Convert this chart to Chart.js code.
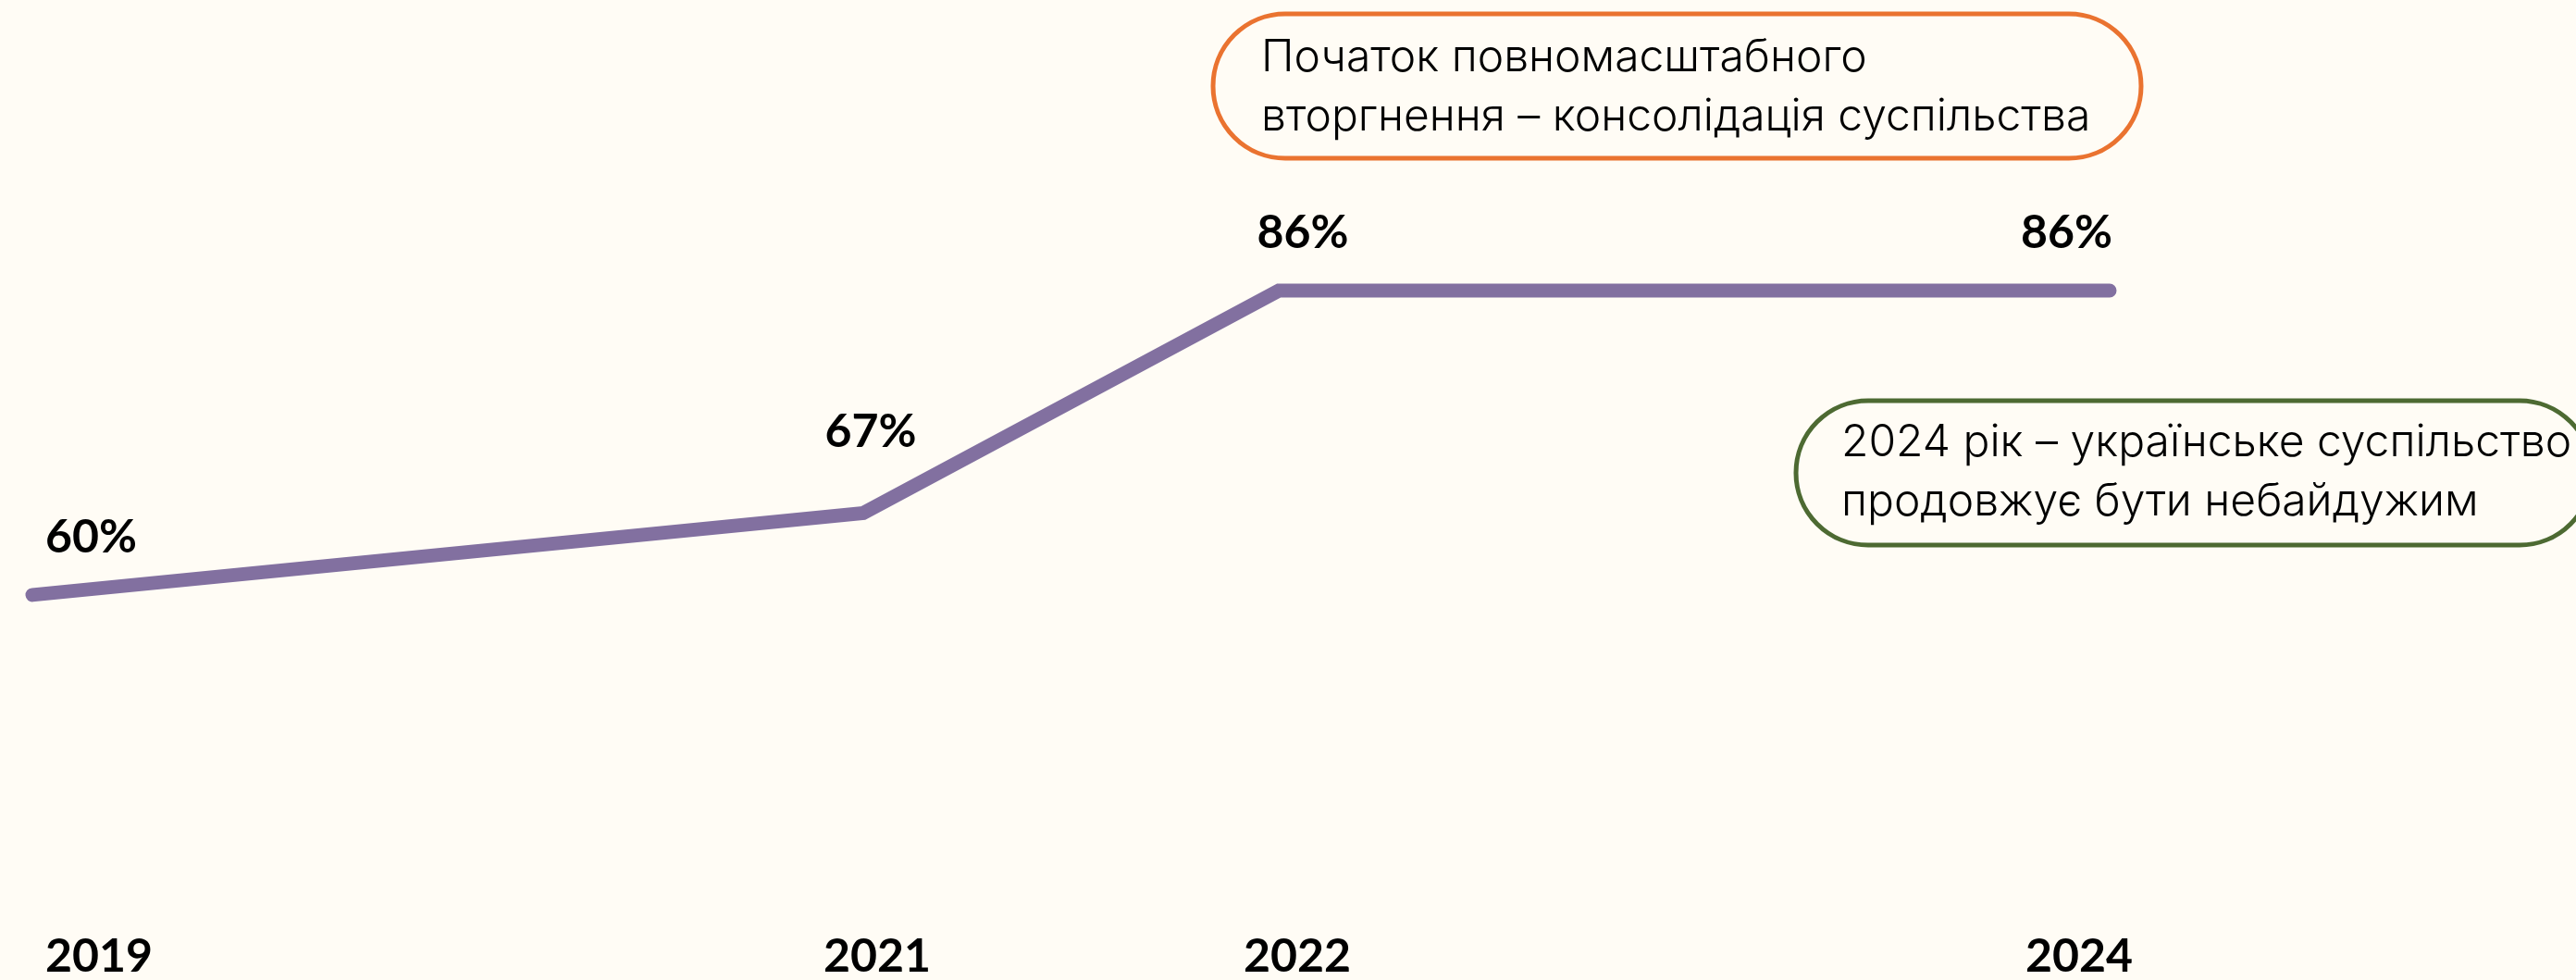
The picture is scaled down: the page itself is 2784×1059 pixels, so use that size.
<!DOCTYPE html>
<html lang="uk">
<head>
<meta charset="utf-8">
<title>Небайдужість суспільства</title>
<script src="https://cdn.jsdelivr.net/npm/chart.js@4.4.1/dist/chart.umd.min.js"></script>
<style>
  html, body { margin: 0; padding: 0; background: #FFFCF5; }
  #wrap { width: 2784px; height: 1059px; }
</style>
</head>
<body>
<div id="wrap"><canvas id="chart" width="2784" height="1059"></canvas></div>
<script>
/* ── Data ─────────────────────────────────────────────── */
const years = [2019, 2021, 2022, 2024];
const shares = [60, 67, 86, 86];
const tickYears = [2019, 2021, 2022, 2024];

const notes = [
  { lines: ['Початок повномасштабного', 'вторгнення – консолідація суспільства'], color: '#EA7330' },
  { lines: ['2024 рік – українське суспільство', 'продовжує бути небайдужим'], color: '#4D6A32' }
];

/* ── Styles ───────────────────────────────────────────── */
const LINE = '#8270A0';
const BOLD = '700 50px Lato, "Open Sans", sans-serif';
const LIGHT = '300 48px Inter, "Noto Sans", sans-serif';

// value label placement relative to its point
const labelAlign = ['left', 'center', 'center', 'right'];
const labelDx = [14, 8, 26, 3];
const labelLift = [46, 71, 46, 46];

// year label placement relative to its tick
const tickAlign = ['left', 'center', 'center', 'right'];
const tickDx = [14, 15, 20, 25];

/* ── Value labels and year labels ────────────────────── */
const textLabels = {
  id: 'textLabels',
  afterDatasetsDraw(chart) {
    const { ctx, scales } = chart;
    const meta = chart.getDatasetMeta(0);
    ctx.save();
    ctx.font = BOLD;
    ctx.fillStyle = '#000';
    ctx.textBaseline = 'alphabetic';
    meta.data.forEach((pt, i) => {
      ctx.textAlign = labelAlign[i];
      ctx.fillText(shares[i] + '%', pt.x + labelDx[i], pt.y - labelLift[i]);
    });
    // years along the bottom
    ctx.textBaseline = 'top';
    tickYears.forEach((yr, i) => {
      ctx.textAlign = tickAlign[i];
      ctx.fillText(String(yr), scales.x.getPixelForValue(yr) + tickDx[i], scales.x.bottom - 50);
    });
    ctx.restore();
  }
};

/* ── Rounded callout boxes ───────────────────────────── */
function pill(ctx, x, y, w, h, color) {
  ctx.beginPath();
  ctx.roundRect(x, y, w, h, h / 2);
  ctx.lineWidth = 5;
  ctx.strokeStyle = color;
  ctx.stroke();
}

const callouts = {
  id: 'callouts',
  afterDraw(chart) {
    const { ctx } = chart;
    const boxes = [
      { x: 1311, y: 15, w: 1003, h: 156, tx: 1363, ty: 77 },
      { x: 1941, y: 433, w: 860, h: 156, tx: 1990, ty: 493 }
    ];
    ctx.save();
    boxes.forEach((b, i) => {
      pill(ctx, b.x, b.y, b.w, b.h, notes[i].color);
      ctx.font = LIGHT;
      ctx.fillStyle = '#000';
      ctx.textAlign = 'left';
      ctx.textBaseline = 'alphabetic';
      notes[i].lines.forEach((t, k) => ctx.fillText(t, b.tx, b.ty + k * 64));
    });
    ctx.restore();
  }
};

/* ── Chart ────────────────────────────────────────────── */
new Chart(document.getElementById('chart'), {
  type: 'line',
  data: {
    datasets: [{
      data: years.map((y, i) => ({ x: y, y: shares[i] })),
      borderColor: LINE,
      borderWidth: 15,
      borderCapStyle: 'round',
      borderJoinStyle: 'miter',
      pointRadius: 0,
      tension: 0,
      clip: false
    }]
  },
  options: {
    responsive: false,
    animation: false,
    layout: { padding: { left: 35, right: 504, top: 137, bottom: 0 } },
    plugins: { legend: { display: false }, tooltip: { enabled: false } },
    scales: {
      x: {
        type: 'linear',
        min: 2019,
        max: 2024,
        afterBuildTicks: s => { s.ticks = tickYears.map(v => ({ value: v })); },
        afterFit: s => { s.height = 62; },
        grid: { display: false, drawTicks: false },
        border: { display: false },
        ticks: { display: false }
      },
      y: {
        display: false,
        min: 32,
        max: 100
      }
    }
  },
  plugins: [textLabels, callouts]
});
</script>
</body>
</html>
